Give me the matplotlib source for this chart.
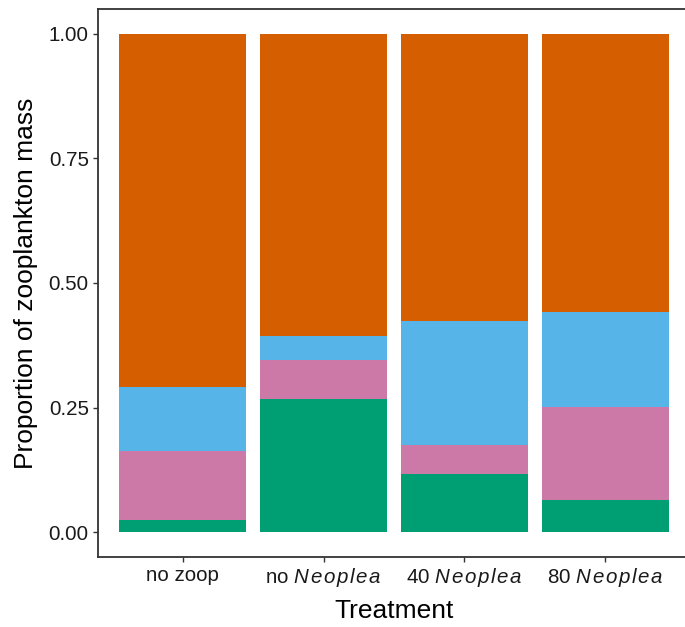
import numpy as np
import matplotlib
matplotlib.use("Agg")
import matplotlib.pyplot as plt

plt.rcParams["font.family"] = ["Liberation Sans", "DejaVu Sans"]
plt.rcParams["mathtext.fontset"] = "custom"
plt.rcParams["mathtext.rm"] = "Liberation Sans"
plt.rcParams["mathtext.it"] = "Liberation Sans:italic"


def spaced_it(word):
    # italic with a little letter spacing, like the original labels
    return "$\\it{" + "\\hspace{0.1}".join(word) + "}$"


# proportions per treatment, stacked bottom -> top
treatments = ["no zoop", "no " + spaced_it("Neoplea"),
              "40 " + spaced_it("Neoplea"), "80 " + spaced_it("Neoplea")]
green = [0.024, 0.267, 0.116, 0.064]
pink = [0.139, 0.079, 0.058, 0.187]
blue = [0.128, 0.047, 0.249, 0.190]
orange = [0.709, 0.607, 0.577, 0.559]

layers = [green, pink, blue, orange]
colors = ["#009E73", "#CC79A7", "#56B4E9", "#D55E00"]

fig = plt.figure(figsize=(6.85, 6.27), dpi=100)
ax = fig.add_axes([98 / 685, 1 - 557 / 627, 592 / 685, 548 / 627])

x = np.arange(1, len(treatments) + 1)
bottom = np.zeros(len(treatments))
for vals, c in zip(layers, colors):
    ax.bar(x, vals, bottom=bottom, width=0.9, color=c, linewidth=0)
    bottom += np.array(vals)

ax.set_xlim(0.4, 4.6)
ax.set_ylim(-0.05, 1.05)
ax.set_yticks([0, 0.25, 0.5, 0.75, 1.0], ["0.00", "0.25", "0.50", "0.75", "1.00"])
ax.set_xticks(x, treatments)
ax.tick_params(length=3.6, width=1, color="#333333", labelsize=14.8, pad=3,
               labelcolor="#1a1a1a")
for s in ax.spines.values():
    s.set_color("#333333")
    s.set_linewidth(1.3)

ax.set_xlabel("Treatment", fontsize=19, labelpad=7)
ax.set_ylabel("Proportion of zooplankton mass", fontsize=19, labelpad=8)

fig.savefig("out.png", dpi=100)
